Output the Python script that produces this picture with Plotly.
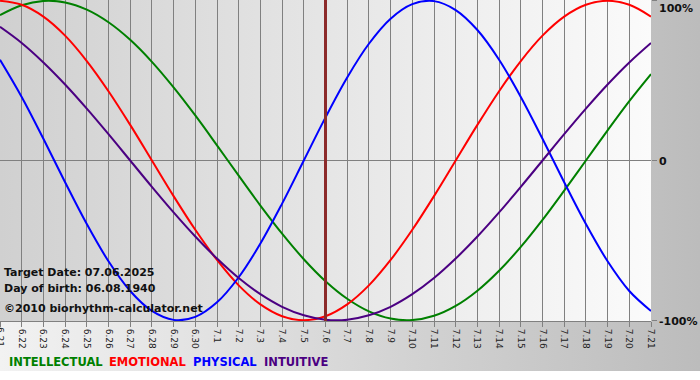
import base64
import plotly.graph_objects as go

# ---------------- data ----------------
day_labels = ["6.21", "6.22", "6.23", "6.24", "6.25", "6.26", "6.27", "6.28", "6.29", "6.30",
              "7.1", "7.2", "7.3", "7.4", "7.5", "7.6", "7.7", "7.8", "7.9", "7.10",
              "7.11", "7.12", "7.13", "7.14", "7.15", "7.16", "7.17", "7.18", "7.19", "7.20", "7.21"]

intellectual = [91.0, 97.2, 99.9, 99.0, 94.5, 86.6, 75.6, 61.8, 45.8, 28.2, 9.5, -9.5, -28.2,
                -45.8, -61.8, -75.6, -86.6, -94.5, -99.0, -99.9, -97.2, -91.0, -81.5, -69.0,
                -54.1, -37.2, -18.9, 0.0, 18.9, 37.2, 54.1]
emotional = [100.0, 97.5, 90.1, 78.2, 62.3, 43.4, 22.3, 0.0, -22.3, -43.4, -62.3, -78.2, -90.1,
             -97.5, -100.0, -97.5, -90.1, -78.2, -62.3, -43.4, -22.3, 0.0, 22.3, 43.4, 62.3,
             78.2, 90.1, 97.5, 100.0, 97.5, 90.1]
physical = [63.1, 39.8, 13.6, -13.6, -39.8, -63.1, -81.7, -94.2, -99.8, -97.9, -88.8, -73.1,
            -52.0, -27.0, 0.0, 27.0, 52.0, 73.1, 88.8, 97.9, 99.8, 94.2, 81.7, 63.1, 39.8, 13.6,
            -13.6, -39.8, -63.1, -81.7, -94.2]
intuitive = [83.7, 73.6, 61.4, 47.6, 32.5, 16.5, 0.0, -16.5, -32.5, -47.6, -61.4, -73.6, -83.7,
             -91.6, -96.9, -99.7, -99.7, -96.9, -91.6, -83.7, -73.6, -61.4, -47.6, -32.5, -16.5,
             0.0, 16.5, 32.5, 47.6, 61.4, 73.6]

series_names = ["INTELLECTUAL", "EMOTIONAL", "PHYSICAL", "INTUITIVE"]
series_colors = ["#008000", "#ff0000", "#0000ff", "#4b0082"]
target_label = "7.6"
y_tick_vals = [100, 0, -100]
y_tick_text = ["100%", "0", "-100%"]
info_lines = ["Target Date: 07.06.2025", "Day of birth: 06.08.1940", "\u00a92010 biorhythm-calculator.net"]

# ---------------- geometry ----------------
W, H = 700, 380
ML, MR, MT, MB = 0, 49, 0, 59
PW, PH = W - ML - MR, H - MT - MB


def py(pix):
    """page pixel y -> paper y"""
    return 1 - (pix - MT) / PH


def px(pix):
    return (pix - ML) / PW


def grad_uri(c_left, c_right, w, h, solid_h=None):
    extra = ""
    if solid_h is not None:
        extra = f'<rect x="0" y="{solid_h}" width="{w}" height="{h - solid_h}" fill="#ffffff"/>'
    svg = (f'<svg xmlns="http://www.w3.org/2000/svg" width="{w}" height="{h}" '
           f'viewBox="0 0 {w} {h}" preserveAspectRatio="none">'
           f'<defs><linearGradient id="g" x1="0" y1="0" x2="1" y2="0">'
           f'<stop offset="0" stop-color="{c_left}"/><stop offset="1" stop-color="{c_right}"/>'
           f'</linearGradient></defs><rect width="{w}" height="{h}" fill="url(#g)"/>{extra}</svg>')
    return "data:image/svg+xml;base64," + base64.b64encode(svg.encode()).decode()


x_idx = list(range(len(day_labels)))
fig = go.Figure()
for name, vals, col in zip(series_names, [intellectual, emotional, physical, intuitive], series_colors):
    fig.add_trace(go.Scatter(x=x_idx, y=vals, mode="lines", name=name,
                             line=dict(color=col, width=2, shape="spline", smoothing=1),
                             showlegend=False, hoverinfo="skip"))

t_idx = day_labels.index(target_label)
fig.add_shape(type="line", xref="x", yref="paper", x0=t_idx, x1=t_idx, y0=0, y1=1,
              line=dict(color="#8c2a2a", width=3), layer="above")

images = [
    dict(source=grad_uri("#f2f2f2", "#bcbcbc", W, H, solid_h=371), xref="paper", yref="paper",
         x=px(0), y=py(0), sizex=W / PW, sizey=H / PH, xanchor="left", yanchor="top",
         sizing="stretch", layer="below"),
    dict(source=grad_uri("#d0d0d0", "#fbfbfb", PW, PH), xref="paper", yref="paper",
         x=0, y=1, sizex=1, sizey=1, xanchor="left", yanchor="top",
         sizing="stretch", layer="below"),
]

annotations = []
# first (edge-clipped) day label, drawn like the tick labels
annotations.append(dict(text=day_labels[0], xref="x", yref="paper", x=0, y=py(325),
                        xanchor="center", yanchor="top", textangle=90, showarrow=False,
                        font=dict(family="DejaVu Sans", size=9, color="#222222")))
# right-side axis labels
for v, t, cy in zip(y_tick_vals, y_tick_text, [8, 162, 322]):
    annotations.append(dict(text=f"<b>{t}</b>", xref="paper", yref="paper", x=1, y=py(cy),
                            xanchor="left", yanchor="middle", xshift=6, showarrow=False,
                            font=dict(family="DejaVu Sans", size=11, color="#111111")))
# info text
for line, cy in zip(info_lines, [272, 288, 308]):
    annotations.append(dict(text=f"<b>{line}</b>", xref="paper", yref="paper", x=0, y=py(cy),
                            xanchor="left", yanchor="middle", xshift=2, showarrow=False,
                            font=dict(family="DejaVu Sans", size=11, color="#111111")))
# colored legend text
for name, col, lx in zip(series_names, series_colors, [7, 107, 191, 262]):
    annotations.append(dict(text=f"<b>{name}</b>", xref="paper", yref="paper", x=px(lx), y=py(362),
                            xanchor="left", yanchor="middle", showarrow=False,
                            font=dict(family="DejaVu Sans", size=11.5, color=col)))

fig.update_layout(
    width=W, height=H,
    margin=dict(l=ML, r=MR, t=MT, b=MB, pad=0),
    paper_bgcolor="#ffffff",
    plot_bgcolor="rgba(0,0,0,0)",
    images=images,
    annotations=annotations,
    hovermode=False,
    xaxis=dict(range=[0, len(day_labels) - 1], tickmode="array", tickvals=x_idx, ticktext=day_labels,
               tickangle=90, ticks="outside", ticklen=5, tickcolor="#808080",
               showgrid=True, gridcolor="#808080", gridwidth=1,
               showline=True, linecolor="#808080", linewidth=1, zeroline=False,
               tickfont=dict(family="DejaVu Sans", size=9, color="#222222"), automargin=False),
    yaxis=dict(range=[-100.5, 100.5], side="right", tickmode="array", tickvals=y_tick_vals,
               showticklabels=False, ticks="outside", ticklen=5, tickcolor="#808080",
               showgrid=False, zeroline=True, zerolinecolor="#808080", zerolinewidth=1,
               showline=False, automargin=False),
)

fig.write_html("out.html", config={"displayModeBar": False, "staticPlot": True},
               post_script="document.body.style.margin='0px';document.body.style.padding='0px';"
                           "document.body.style.overflow='hidden';")
